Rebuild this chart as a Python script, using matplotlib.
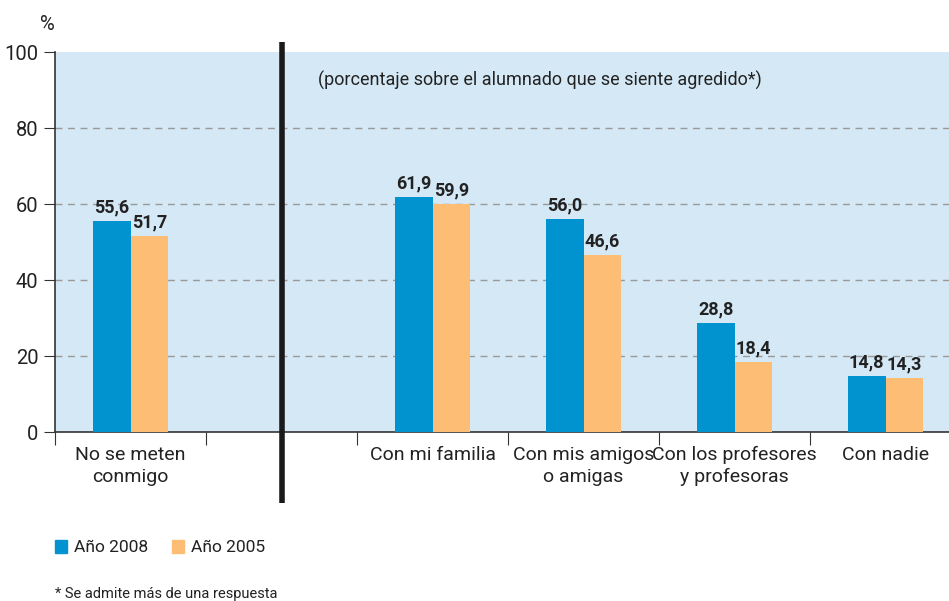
import numpy as np
import matplotlib
matplotlib.use('Agg')
from matplotlib import pyplot as plt

plt.rcParams['font.family'] = ['Roboto', 'DejaVu Sans']

categories = ['No se meten\nconmigo', '', 'Con mi familia', 'Con mis amigos\no amigas',
              'Con los profesores\ny profesoras', 'Con nadie']
val_2008 = [55.6, None, 61.9, 56.0, 28.8, 14.8]
val_2005 = [51.7, None, 59.9, 46.6, 18.4, 14.3]
series_names = ['Año 2008', 'Año 2005']
colors = ['#0093d0', '#fdbd74']

W, H = 949, 601
fig = plt.figure(figsize=(W / 100, H / 100), dpi=100)
# axes box in pixels: left 55, top 52, bottom 432, right runs past the figure edge
x0, x1, y0, y1 = 55, 961, 432, 52
ax = fig.add_axes([x0 / W, 1 - y0 / H, (x1 - x0) / W, (y0 - y1) / H])
ax.set_facecolor('#d4e8f5')

x = np.arange(len(categories))
bw = 0.25
for i in range(len(categories)):
    if val_2008[i] is None:
        continue
    ax.bar(x[i] - bw / 2, val_2008[i], bw, color=colors[0], zorder=3)
    ax.bar(x[i] + bw / 2, val_2005[i], bw, color=colors[1], zorder=3)
    ax.text(x[i] - bw / 2, val_2008[i] + 1.2, f'{val_2008[i]:.1f}'.replace('.', ','),
            ha='center', va='bottom', fontsize=13, fontweight='bold', color='#222222', zorder=4)
    ax.text(x[i] + bw / 2, val_2005[i] + 1.2, f'{val_2005[i]:.1f}'.replace('.', ','),
            ha='center', va='bottom', fontsize=13, fontweight='bold', color='#222222', zorder=4)

ax.set_xlim(-0.5, len(categories) - 0.5)
ax.set_ylim(0, 100)
ax.set_yticks([0, 20, 40, 60, 80, 100])
ax.tick_params(axis='y', labelsize=14.5, length=8, color='#333333', labelcolor='#222222', pad=4)
ax.set_xticks(np.arange(len(categories) + 1) - 0.5)
ax.set_xticklabels([])
ax.tick_params(axis='x', length=9, color='#333333')
for i, lab in enumerate(categories):
    ax.text(x[i], -3.6, lab, ha='center', va='top', fontsize=14, color='#222222',
            linespacing=1.3)

for yv in [20, 40, 60, 80]:
    ax.axhline(yv, color='#9a9a9a', lw=1, ls=(0, (5, 4)), zorder=1)

for s in ['top', 'right']:
    ax.spines[s].set_visible(False)
for s in ['left', 'bottom']:
    ax.spines[s].set_color('#333333')
    ax.spines[s].set_linewidth(1.2)

# thick separator line in the empty slot
ax.plot([1, 1], [102.6, -18.8], color='#1a1a1a', lw=4, clip_on=False, zorder=5,
        solid_capstyle='butt')

ax.text(1.24, 92.6, '(porcentaje sobre el alumnado que se siente agredido*)',
        ha='left', va='center', fontsize=13, color='#222222')

fig.text(40 / W, 1 - 24 / H, '%', ha='left', va='center', fontsize=14.5, color='#222222')

# legend
for j, (name, c) in enumerate(zip(series_names, colors)):
    lx = [55, 172][j]
    fig.patches.append(plt.Rectangle((lx / W, 1 - 553 / H), 12 / W, 13 / H,
                                     transform=fig.transFigure, color=c))
    fig.text((lx + 19) / W, 1 - 547 / H, name, ha='left', va='center', fontsize=12.5,
             color='#222222')

fig.text(55 / W, 1 - 594 / H, '* Se admite más de una respuesta', ha='left', va='center',
         fontsize=10.5, color='#222222')

fig.savefig('out.png', dpi=100)
